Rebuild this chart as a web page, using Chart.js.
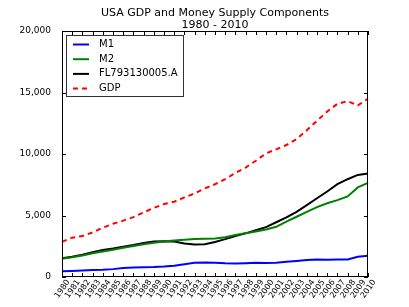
<!DOCTYPE html>
<html>
<head>
<meta charset="utf-8">
<script src="https://cdn.jsdelivr.net/npm/chart.js@4.4.1/dist/chart.umd.min.js"></script>
<style>
html,body{margin:0;padding:0;background:#fff;}
#wrap{width:409px;height:307px;}
</style>
</head>
<body>
<div id="wrap"><canvas id="c" width="409" height="307"></canvas></div>
<script>
const titleLines = ['USA GDP and Money Supply Components', '1980 - 2010'];
const years = ['1980','1981','1982','1983','1984','1985','1986','1987','1988','1989','1990','1991','1992','1993','1994','1995','1996','1997','1998','1999','2000','2001','2002','2003','2004','2005','2006','2007','2008','2009','2010'];
const m1 = [460,490,520,560,590,640,730,780,800,810,850,920,1040,1150,1180,1160,1110,1100,1120,1150,1130,1150,1240,1310,1390,1420,1410,1420,1420,1650,1730];
const m2 = [1490,1600,1740,1930,2080,2210,2370,2520,2670,2790,2880,2960,3030,3080,3110,3140,3240,3420,3550,3700,3860,4080,4500,4900,5300,5680,6000,6250,6550,7280,7650];
const fl = [1520,1650,1820,2020,2200,2320,2460,2600,2760,2880,2900,2880,2720,2640,2660,2850,3080,3330,3550,3800,4050,4450,4850,5300,5850,6400,6950,7550,7950,8300,8420];
const gdp = [2860,3200,3330,3620,4010,4330,4580,4870,5250,5620,5930,6120,6470,6790,7200,7540,7960,8450,8900,9450,10050,10380,10730,11220,11930,12700,13450,14080,14300,13950,14500];
const yTicks = [0,5000,10000,15000,20000];
const seriesNames = ['M1','M2','FL793130005.A','GDP'];

const FONT = 'DejaVu Sans';
const ROT = 55 * Math.PI / 180;

const frame = {
  id: 'frame',
  afterDraw(chart) {
    const ctx = chart.ctx, a = chart.chartArea;
    const xs = chart.scales.x, ys = chart.scales.y;
    ctx.save();
    ctx.strokeStyle = '#000';
    ctx.lineWidth = 1;
    ctx.strokeRect(Math.round(a.left)+0.5, Math.round(a.top)+0.5, Math.round(a.right-a.left)-1, Math.round(a.bottom-a.top)-1);
    ctx.beginPath();
    for (let i = 0; i < years.length; i++) {
      const px = Math.round(xs.getPixelForTick(i)) + 0.5;
      ctx.moveTo(px, a.bottom); ctx.lineTo(px, a.bottom - 4);
      ctx.moveTo(px, a.top); ctx.lineTo(px, a.top + 4);
    }
    for (const v of yTicks) {
      const py = Math.round(ys.getPixelForValue(v)) + 0.5;
      ctx.moveTo(a.left, py); ctx.lineTo(a.left + 4, py);
      ctx.moveTo(a.right, py); ctx.lineTo(a.right - 4, py);
    }
    ctx.stroke();
    // x tick labels (rotated, centred on tick like matplotlib)
    ctx.fillStyle = '#000';
    ctx.font = '8px "' + FONT + '"';
    ctx.textAlign = 'center';
    ctx.textBaseline = 'middle';
    xs.ticks.forEach((t, i) => {
      const lab = xs.getLabelForValue(t.value);
      const w = ctx.measureText(lab).width, h = 6;
      const bh = w * Math.sin(ROT) + h * Math.cos(ROT);
      const cx = xs.getPixelForTick(i) + 0.5;
      const cy = a.bottom + 2 + bh / 2;
      ctx.save();
      ctx.translate(cx, cy);
      ctx.rotate(-ROT);
      ctx.fillText(lab, 0, 0);
      ctx.restore();
    });
    // title
    ctx.font = '11px "' + FONT + '"';
    ctx.textAlign = 'center';
    ctx.textBaseline = 'alphabetic';
    const cx = (a.left + a.right) / 2;
    ctx.fillText(titleLines[0], cx, 16);
    ctx.fillText(titleLines[1], cx, 28);
    // legend
    const lx = 66, ly = 35, lw = 117, lh = 61;
    ctx.fillStyle = '#fff';
    ctx.fillRect(lx, ly, lw, lh);
    ctx.strokeStyle = '#333';
    ctx.lineWidth = 1;
    ctx.strokeRect(lx + 0.5, ly + 0.5, lw, lh);
    ctx.font = '10px "' + FONT + '"';
    ctx.textAlign = 'left';
    ctx.textBaseline = 'middle';
    chart.data.datasets.forEach((ds, i) => {
      const yy = 44.5 + i * 14.7;
      ctx.save();
      ctx.strokeStyle = ds.borderColor;
      ctx.lineWidth = 2;
      ctx.setLineDash(ds.borderDash || []);
      ctx.beginPath();
      ctx.moveTo(73, yy); ctx.lineTo(89, yy);
      ctx.stroke();
      ctx.restore();
      ctx.fillStyle = '#000';
      ctx.fillText(ds.label, 99, yy);
    });
    ctx.restore();
  }
};

const mk = (label, data, color, dash) => ({
  label, data, borderColor: color, backgroundColor: color, borderWidth: 2,
  borderDash: dash, pointRadius: 0, tension: 0, fill: false
});

new Chart(document.getElementById('c'), {
  type: 'line',
  data: {
    labels: years,
    datasets: [
      mk(seriesNames[0], m1, '#0000ff', []),
      mk(seriesNames[1], m2, '#008000', []),
      mk(seriesNames[2], fl, '#000000', []),
      mk(seriesNames[3], gdp, '#ff0000', [5, 4])
    ]
  },
  options: {
    responsive: false,
    animation: false,
    devicePixelRatio: 1,
    layout: { padding: { left: 0, right: 41, top: 31, bottom: 0 } },
    plugins: { legend: { display: false }, title: { display: false }, tooltip: { enabled: false } },
    scales: {
      x: {
        offset: false,
        grid: { display: false },
        border: { display: false },
        ticks: { display: false, autoSkip: false },
        afterFit(s) { s.height = 30; }
      },
      y: {
        min: 0, max: 20000,
        grid: { display: false },
        border: { display: false },
        ticks: {
          stepSize: 5000, color: '#000', font: { family: FONT, size: 9 }, padding: 3,
          callback: v => v.toLocaleString('en-US')
        },
        afterFit(s) { s.width = 62; }
      }
    }
  },
  plugins: [frame]
});
</script>
</body>
</html>
